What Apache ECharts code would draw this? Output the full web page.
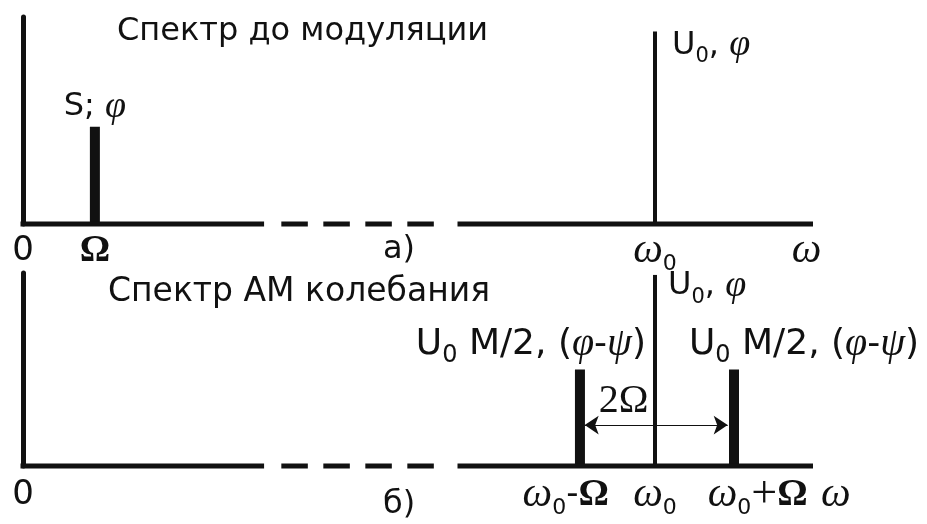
<!DOCTYPE html>
<html>
<head>
<meta charset="utf-8">
<title>Спектр АМ колебания</title>
<script src="https://cdn.jsdelivr.net/npm/echarts@6/dist/echarts.min.js"></script>
<style>
html, body { margin: 0; padding: 0; background: #fff; }
#chart { width: 927px; height: 524px; }
</style>
</head>
<body>
<div id="chart"></div>
<script>
// а) спектр до модуляции: частоты и амплитуды (условные единицы)
var topFreq = [9.1, 80];                 // Ω, ω0
var topAmp = [47, 93];
var topLineLabels = ['S; φ', 'U₀, φ'];
var topTickX = [0, 9.1, 80, 99.2];
var topTickLabels = ['0', 'Ω', 'ω₀', 'ω'];

// б) спектр АМ колебания
var botFreq = [70.5, 80, 90];            // ω0-Ω, ω0, ω0+Ω
var botAmp = [50, 99, 50];
var botLineLabels = ['U₀ M/2, (φ-ψ)', 'U₀, φ', 'U₀ M/2, (φ-ψ)'];
var botTickX = [0, 68.7, 80, 93, 102.9];
var botTickLabels = ['0', 'ω₀-Ω', 'ω₀', 'ω₀+Ω', 'ω'];

// ось частот: сплошной участок, штрихи (разрыв), снова сплошной
var axisBreak = [30.2, 32.7, 52.2, 55];
var axisEnd = 100;

// стрелка 2Ω между боковыми
var bandArrow = [71.1, 89.2];
var bandArrowY = 21.2;
var bandLabel = '2Ω';

var INK = '#111111';
var SANS = 'DejaVu Sans';
var SERIF = 'Liberation Serif';

// набор стилей rich: t - обычный текст, s/w - индекс 0, g - греческие буквы, O - Ω, p - плюс
function makeRich(f, gf, of, pf) {
	var lh = Math.round(Math.max(f, gf, of) * 1.15);
	var fs = Math.round(f * 0.66);
	var shiftS = 0.3 * (f - fs) + 1;
	var shiftW = 0.3 * (gf - fs) + 8;
	return {
		t: { fontFamily: SANS, fontSize: f, lineHeight: lh, color: INK },
		s: { fontFamily: SANS, fontSize: fs, lineHeight: Math.max(lh - 2 * shiftS, 4), verticalAlign: 'bottom', color: INK },
		w: { fontFamily: SANS, fontSize: fs, lineHeight: Math.max(lh - 2 * shiftW, 4), verticalAlign: 'bottom', color: INK },
		g: { fontFamily: SERIF, fontStyle: 'italic', fontSize: gf, lineHeight: lh, color: INK },
		O: { fontFamily: SERIF, fontWeight: 'bold', fontSize: of, lineHeight: lh, color: INK },
		p: { fontFamily: SERIF, fontSize: pf || of, lineHeight: lh, color: INK }
	};
}

function toRich(s) {
	var out = '', buf = '', prev = '';
	function flush() {
		if (buf) { out += '{t|' + buf + '}'; buf = ''; }
	}
	for (var i = 0; i < s.length; i++) {
		var c = s.charAt(i);
		if (c === '₀') { flush(); out += '{' + (prev === 'ω' ? 'w' : 's') + '|0}'; }
		else if ('ωφψ'.indexOf(c) >= 0) { flush(); out += '{g|' + c + '}'; }
		else if (c === 'Ω') { flush(); out += '{O|Ω}'; }
		else if (c === '+') { flush(); out += '{p|+}'; }
		else buf += c;
		prev = c;
	}
	flush();
	return out;
}

// ось частот с разрывом
function axisSeries(g) {
	var base = { type: 'line', xAxisIndex: g, yAxisIndex: g, symbol: 'none', silent: true, clip: false };
	return [
		Object.assign({ data: [[0, 0], [axisBreak[0], 0]], lineStyle: { color: INK, width: 5, cap: 'square' } }, base),
		Object.assign({ data: [[axisBreak[1], 0], [axisBreak[2], 0]], lineStyle: { color: INK, width: 5, type: [26.5, 15.5] } }, base),
		Object.assign({ data: [[axisBreak[3], 0], [axisEnd, 0]], lineStyle: { color: INK, width: 5 } }, base)
	];
}

// спектральные линии
function stemSeries(g, freq, amp, idx, width) {
	return {
		type: 'custom', xAxisIndex: g, yAxisIndex: g, silent: true,
		data: idx.map(function (i) { return [freq[i], amp[i]]; }),
		renderItem: function (params, api) {
			var base = api.coord([api.value(0), 0]);
			var top = api.coord([api.value(0), api.value(1)]);
			return {
				type: 'rect',
				shape: { x: base[0] - width / 2, y: top[1], width: width, height: base[1] - top[1] },
				style: { fill: INK }
			};
		}
	};
}

// подписи (невидимые точки с текстом)
function labelSeries(g, xs, ys, labels, idx, rich, align, offset) {
	return {
		type: 'scatter', xAxisIndex: g, yAxisIndex: g, symbolSize: 0, silent: true, clip: false,
		data: idx.map(function (i) { return { value: [xs[i], ys[i]], name: labels[i] }; }),
		label: {
			show: true, position: 'inside', align: align, verticalAlign: 'middle', offset: offset,
			color: INK, textBorderWidth: 0, opacity: 1,
			formatter: function (p) { return toRich(p.name); },
			rich: rich
		}
	};
}

var zerosTop = topTickX.map(function () { return 0; });
var zerosBot = botTickX.map(function () { return 0; });
var richLine = makeRich(32, 38, 36);
var richSide = makeRich(36, 40, 38);
var richTick = makeRich(34, 42, 38, 46);

var titleStyle = { fontFamily: SANS, fontSize: 32, fontWeight: 'normal', color: INK };

var myChart = echarts.init(document.getElementById('chart'));
var option = {
	backgroundColor: '#ffffff',
	animation: false,
	title: [
		{ text: 'Спектр до модуляции', left: 117, top: 16, padding: 0, textStyle: titleStyle },
		{ text: 'Спектр АМ колебания', left: 108, top: 276, padding: 0, textStyle: Object.assign({}, titleStyle, { fontSize: 33 }) },
		{ text: 'а)', left: 383, top: 234, padding: 0, textStyle: titleStyle },
		{ text: 'б)', left: 383, top: 489, padding: 0, textStyle: titleStyle }
	],
	grid: [
		{ left: 23, top: 17, width: 869, height: 207 },
		{ left: 23, top: 273, width: 869, height: 193 }
	],
	xAxis: [0, 1].map(function (i) {
		return { type: 'value', gridIndex: i, min: 0, max: 110, show: false };
	}),
	yAxis: [0, 1].map(function (i) {
		return {
			type: 'value', gridIndex: i, min: 0, max: 100,
			axisLine: { show: true, lineStyle: { color: INK, width: 5 } },
			axisTick: { show: false }, axisLabel: { show: false }, splitLine: { show: false }
		};
	}),
	series: [].concat(
		axisSeries(0),
		axisSeries(1),
		[
			stemSeries(0, topFreq, topAmp, [0], 10),
			stemSeries(0, topFreq, topAmp, [1], 4),
			stemSeries(1, botFreq, botAmp, [0, 2], 10),
			stemSeries(1, botFreq, botAmp, [1], 4),

			labelSeries(0, topFreq, topAmp, topLineLabels, [0], richLine, 'center', [0, -20]),
			labelSeries(0, topFreq, topAmp, topLineLabels, [1], richLine, 'left', [17, 14]),
			labelSeries(1, botFreq, botAmp, botLineLabels, [0], richSide, 'right', [66, -25]),
			labelSeries(1, botFreq, botAmp, botLineLabels, [2], richSide, 'left', [-45, -25]),
			labelSeries(1, botFreq, botAmp, botLineLabels, [1], richLine, 'left', [13, 11]),

			labelSeries(0, topTickX, zerosTop, topTickLabels, [0, 1, 2, 3], richTick, 'center', [0, 27]),
			labelSeries(1, botTickX, zerosBot, botTickLabels, [0, 1, 2, 3, 4], richTick, 'center', [0, 29]),

			{
				type: 'line', xAxisIndex: 1, yAxisIndex: 1, data: [], silent: true,
				markLine: {
					silent: true, animation: false,
					symbol: ['arrow', 'arrow'], symbolSize: 14,
					lineStyle: { color: INK, width: 1, type: 'solid' },
					label: {
						show: true, position: 'insideStartTop', distance: [14, 4],
						formatter: '{r|' + bandLabel + '}',
						rich: { r: { fontFamily: SERIF, fontSize: 40, color: INK } }
					},
					data: [[{ coord: [bandArrow[0], bandArrowY] }, { coord: [bandArrow[1], bandArrowY] }]]
				}
			}
		]
	)
};
myChart.setOption(option);
</script>
</body>
</html>
